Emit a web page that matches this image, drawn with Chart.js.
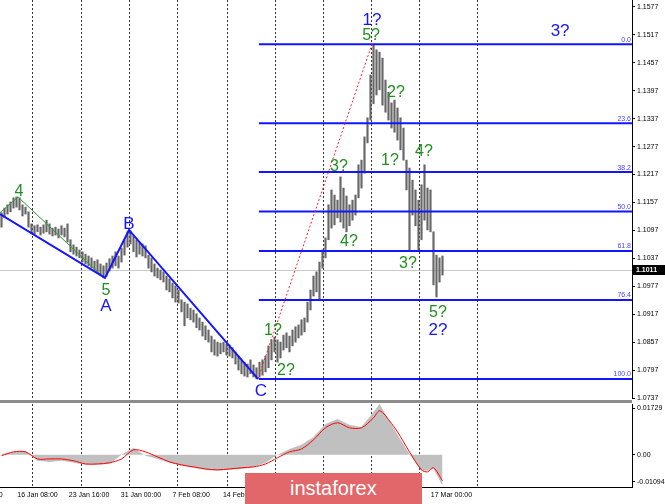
<!DOCTYPE html>
<html>
<head>
<meta charset="utf-8">
<title>EURUSD H4 wave count</title>
<script src="https://cdn.jsdelivr.net/npm/chart.js@4.4.1/dist/chart.umd.min.js"></script>
<style>
  html, body { margin:0; padding:0; background:#fff; }
  #wrap { position:relative; width:665px; height:504px; overflow:hidden; background:#fff; }
  #main { position:absolute; left:0; top:0; }
  #ind  { position:absolute; left:0; top:404px; }
  #sep  { position:absolute; left:0; top:400px; width:632px; height:3px; background:#8c8c8c; }
  #logo { position:absolute; left:245px; top:473px; width:177px; height:31px; background:#e2676b; color:#fff;
          font:20px "Liberation Sans", Arial, sans-serif; }
  #logo span { position:absolute; left:45px; top:4px; }
</style>
</head>
<body>
<div id="wrap">
  <canvas id="main" width="665" height="404"></canvas>
  <div id="sep"></div>
  <canvas id="ind" width="665" height="100"></canvas>
  <div id="logo"><span>instaforex</span></div>
</div>
<script>
/* price bars (one per x index) */
const highs = [
  1.1135,1.1145,1.1152,1.1158,1.1167,1.1169,1.1167,1.1152,1.1147,1.1137,
  1.1111,1.1107,1.1109,1.1104,1.1109,1.1119,1.1111,1.1102,1.1104,1.1100,
  1.1107,1.1102,1.1111,1.1077,1.1066,1.1061,1.1055,1.1051,1.1046,1.1042,
  1.1038,1.1031,1.1034,1.1025,1.1021,1.1027,1.1036,1.1042,1.1051,1.1042,
  1.1059,1.1077,1.1094,1.1096,1.1085,1.1077,1.1072,1.1068,1.1064,1.1044,
  1.1038,1.1025,1.1016,1.1012,1.1008,1.0999,1.0993,1.0984,1.0978,1.0969,
  1.0948,1.0943,1.0939,1.0930,1.0926,1.0918,1.0909,1.0900,1.0892,1.0883,
  1.0870,1.0862,1.0857,1.0855,1.0857,1.0853,1.0851,1.0845,1.0836,1.0827,
  1.0819,1.0814,1.0810,1.0819,1.0808,1.0802,1.0814,1.0819,1.0827,1.0849,
  1.0862,1.0868,1.0862,1.0857,1.0872,1.0877,1.0870,1.0883,1.0890,1.0894,
  1.0905,1.0909,1.0943,1.0969,1.0999,1.1008,1.1029,1.1055,1.1081,1.1152,
  1.1184,1.1173,1.1162,1.1212,1.1188,1.1171,1.1152,1.1162,1.1173,1.1238,
  1.1248,1.1298,1.1339,1.1431,1.1497,1.1485,1.1480,1.1467,1.1420,1.1394,
  1.1371,1.1377,1.1360,1.1339,1.1317,1.1248,1.1231,1.1205,1.1184,1.1162,
  1.1195,1.1238,1.1188,1.1184,1.1094,1.1044,1.1038,1.1042
];
const lows = [
  1.1104,1.1124,1.1132,1.1137,1.1145,1.1147,1.1141,1.1128,1.1132,1.1104,
  1.1091,1.1089,1.1094,1.1087,1.1091,1.1094,1.1089,1.1085,1.1087,1.1081,
  1.1087,1.1083,1.1072,1.1051,1.1046,1.1042,1.1038,1.1029,1.1025,1.1021,
  1.1016,1.1012,1.1008,1.1001,1.0995,1.0999,1.1010,1.1016,1.1021,1.1016,
  1.1029,1.1044,1.1061,1.1068,1.1051,1.1040,1.1046,1.1042,1.1038,1.1016,
  1.1008,1.0999,1.0995,1.0991,1.0986,1.0969,1.0965,1.0952,1.0943,1.0941,
  1.0922,1.0892,1.0909,1.0905,1.0900,1.0888,1.0883,1.0870,1.0862,1.0857,
  1.0836,1.0829,1.0827,1.0832,1.0836,1.0829,1.0827,1.0823,1.0810,1.0797,
  1.0789,1.0784,1.0782,1.0789,1.0782,1.0778,1.0782,1.0786,1.0793,1.0802,
  1.0819,1.0836,1.0814,1.0823,1.0840,1.0845,1.0836,1.0849,1.0857,1.0866,
  1.0872,1.0879,1.0900,1.0926,1.0956,1.0965,1.0948,1.1016,1.1038,1.1077,
  1.1102,1.1109,1.1124,1.1115,1.1102,1.1094,1.1107,1.1119,1.1130,1.1167,
  1.1188,1.1220,1.1285,1.1334,1.1369,1.1388,1.1399,1.1366,1.1351,1.1334,
  1.1317,1.1308,1.1291,1.1270,1.1248,1.1184,1.1055,1.1130,1.1107,1.1055,
  1.1077,1.1119,1.1098,1.1094,1.0980,1.0954,1.0986,1.1001
];
const lastPrice = 1.1011;

/* axes */
const xMin = -0.5, xMax = 210.17;
const priceMin = 1.0737, priceMax = 1.1592;
const priceTicks = [1.0737,1.0797,1.0857,1.0917,1.0977,1.1037,1.1097,1.1157,1.1217,1.1277,1.1337,1.1397,1.1457,1.1517,1.1577];
const gridBars = [10.5, 26.8, 42.8, 58.8, 75.2, 91.2, 107.2, 123.5, 139.5, 158.8];
const timeBars = [-5.7, 12, 29.2, 46.5, 63.2, 80.7, 97.8, 115.2, 132.5, 150];
const timeLabels = ['9 Jan 00:00','16 Jan 08:00','23 Jan 16:00','31 Jan 00:00','7 Feb 08:00','14 Feb 16:00','24 Feb 00:00','2 Mar 08:00','9 Mar 16:00','17 Mar 00:00'];

/* wave markup */
const waveABC = [[-0.5, 1.1132], [34.5, 1.0995], [42.5, 1.1098], [85.5, 1.0778]];
const wave45  = [[-0.5, 1.1135], [5.5, 1.1169], [33.5, 1.0999]];
const waveRay = [[85.5, 1.0778], [123.5, 1.1497]];
const fibStart = 85.8, fibHigh = 1.1497, fibLow = 1.0778;
const fibLevels = [0, 23.6, 38.2, 50, 61.8, 76.4, 100];

const waveText  = ['4','5','A','B','C','1?','2?','3?','4?','1?','5?','2?','1?','4?','3?','5?','2?','3?'];
const waveX     = [5.8,34.8,34.8,42.5,86.5,90.5,94.8,112.5,115.8,123.5,123.2,131.5,129.5,140.8,135.5,145.5,145.5,186.2];
const waveY     = [1.1180,1.0967,1.0935,1.1111,1.0752,1.0881,1.0795,1.1235,1.1072,1.1549,1.1515,1.1394,1.1246,1.1266,1.1025,1.0920,1.0883,1.1525];
const waveColor = ['g','g','b','b','b','g','g','g','g','b','g','g','g','g','g','g','b','b'];

/* oscillator panel */
const indBars   = [0,4,8,12,16,20,24,28,32,36,40,44,48,52,56,60,64,68,72,76,80,84,88,92,96,100,104,108,112,116,120,124,126,128,132,136,140,142,144,147];
const indHist   = [0.0003,0.0010,0.0014,-0.0020,-0.0024,-0.0020,-0.0027,-0.0034,-0.0034,-0.0031,0.0000,0.0024,-0.0003,-0.0014,-0.0027,-0.0037,-0.0044,-0.0051,-0.0054,-0.0051,-0.0048,-0.0041,-0.0027,0.0000,0.0020,0.0034,0.0061,0.0105,0.0122,0.0102,0.0095,0.0146,0.0173,0.0139,0.0068,0.0003,-0.0054,-0.0054,-0.0048,-0.0105];
const indSignal = [-0.0003,0.0010,0.0010,-0.0014,-0.0014,-0.0014,-0.0020,-0.0031,-0.0031,-0.0027,-0.0014,0.0017,0.0010,-0.0007,-0.0024,-0.0034,-0.0041,-0.0048,-0.0051,-0.0048,-0.0044,-0.0041,-0.0031,-0.0010,0.0010,0.0020,0.0051,0.0092,0.0109,0.0092,0.0092,0.0126,0.0150,0.0133,0.0078,0.0010,-0.0051,-0.0058,-0.0044,-0.0088];
const indMin = -0.01094, indMax = 0.01729;
const indTickVals = [0.0159, 0, -0.0092];
const indTickText = ['0.01729', '0.00', '-0.01094'];

const FONT = '"Liberation Sans", Arial, sans-serif';
const BLUE = '#1414ff', GREEN = '#1f8f1f';

function fibPrice(f) { return fibHigh - (fibHigh - fibLow) * f / 100; }
function pts(arr) { return arr.map(p => ({ x: p[0], y: p[1] })); }
function lineDs(data, color, width, dash) {
    return { type:'line', data, borderColor:color, borderWidth:width, borderDash:dash || [],
             pointRadius:0, fill:false, tension:0, xAxisID:'x', yAxisID:'y' };
}

/* ── overlay texts ── */
const overlay = {
    id: 'overlay',
    afterDatasetsDraw(chart) {
        const { ctx, chartArea, scales: { x, y } } = chart;
        ctx.save();
        ctx.font = '7px ' + FONT;
        ctx.fillStyle = '#4646ff';
        ctx.textAlign = 'right';
        ctx.textBaseline = 'bottom';
        fibLevels.forEach(f => {
            ctx.fillText(f.toFixed(1), chartArea.right - 1, y.getPixelForValue(fibPrice(f)) - 1);
        });
        ctx.textAlign = 'center';
        ctx.textBaseline = 'middle';
        waveText.forEach((t, i) => {
            const blue = waveColor[i] === 'b';
            ctx.font = (blue ? '17px ' : '16px ') + FONT;
            ctx.fillStyle = blue ? BLUE : GREEN;
            ctx.fillText(t, x.getPixelForValue(waveX[i]), y.getPixelForValue(waveY[i]));
        });
        ctx.restore();
    },
    afterDraw(chart) {
        const { ctx, chartArea, scales: { y } } = chart;
        const py = Math.round(y.getPixelForValue(lastPrice));
        ctx.save();
        ctx.fillStyle = '#000';
        ctx.fillRect(chartArea.right + 1, py - 5, 32, 10);
        ctx.fillStyle = '#fff';
        ctx.font = 'bold 7px ' + FONT;
        ctx.textAlign = 'left';
        ctx.textBaseline = 'middle';
        ctx.fillText(lastPrice.toFixed(4), chartArea.right + 4, py);
        ctx.restore();
    }
};

/* ── main price chart ── */
const datasets = [
    lineDs(pts(waveABC), BLUE, 2),
    lineDs(pts(wave45), '#2a9a2a', 1),
    lineDs(pts(waveRay), '#ff2020', 1, [2, 2]),
];
fibLevels.forEach(f => datasets.push(lineDs([{ x: fibStart, y: fibPrice(f) }, { x: xMax, y: fibPrice(f) }], BLUE, 2)));
datasets.push({
    type:'bar', data: highs.map((h, i) => ({ x: i, y: [lows[i], h] })),
    backgroundColor:'#666666', barThickness:1.5, xAxisID:'x', yAxisID:'y'
});
datasets.push(lineDs([{ x: xMin, y: lastPrice }, { x: xMax, y: lastPrice }], '#c8c8c8', 1));

new Chart(document.getElementById('main'), {
    type: 'line',
    data: { datasets },
    options: {
        responsive:false, animation:false, devicePixelRatio:1, events:[],
        layout: { padding: 0 },
        plugins: { legend:{ display:false }, tooltip:{ enabled:false } },
        scales: {
            x: {
                type:'linear', min:xMin, max:xMax, offset:false,
                grid: { color:'#333', lineWidth:1, drawTicks:false, offset:false },
                border: { display:false, dash:[2, 2] },
                ticks: { display:false },
                afterBuildTicks: s => { s.ticks = gridBars.map(v => ({ value: v })); },
                afterFit: s => { s.height = 6; s.paddingLeft = 0; s.paddingRight = 0; }
            },
            y: {
                type:'linear', position:'right', min:priceMin, max:priceMax,
                grid: { drawOnChartArea:false, drawTicks:true, tickLength:3, color:'#000' },
                border: { display:true, color:'#000', width:1 },
                ticks: { color:'#000', padding:2, autoSkip:false, font:{ size:7, family:FONT }, callback: v => v.toFixed(4) },
                afterBuildTicks: s => { s.ticks = priceTicks.map(v => ({ value: v })); },
                afterFit: s => { s.width = 33; s.paddingTop = 0; s.paddingBottom = 0; }
            }
        }
    },
    plugins: [overlay]
});

/* ── oscillator panel ── */
new Chart(document.getElementById('ind'), {
    type: 'line',
    data: {
        datasets: [
            { data: indBars.map((b, i) => ({ x: b, y: indSignal[i] })), borderColor:'#ff0000', borderWidth:1,
              pointRadius:0, tension:0.3, fill:false, xAxisID:'x', yAxisID:'y' },
            { data: indBars.map((b, i) => ({ x: b, y: indHist[i] })), borderWidth:0, backgroundColor:'#c0c0c0',
              pointRadius:0, tension:0, fill:'origin', xAxisID:'x', yAxisID:'y' }
        ]
    },
    options: {
        responsive:false, animation:false, devicePixelRatio:1, events:[],
        layout: { padding: 0 },
        plugins: { legend:{ display:false }, tooltip:{ enabled:false } },
        scales: {
            x: {
                type:'linear', min:xMin, max:xMax, offset:false,
                grid: { color:'#333', lineWidth:1, drawTicks:false, offset:false },
                border: { display:false, dash:[2, 2] },
                ticks: { display:false },
                afterBuildTicks: s => { s.ticks = gridBars.map(v => ({ value: v })); },
                afterFit: s => { s.height = 0; s.paddingLeft = 0; s.paddingRight = 0; }
            },
            x2: {
                type:'linear', position:'bottom', min:xMin, max:xMax, offset:false,
                grid: { display:false, drawTicks:false },
                border: { display:true, color:'#000' },
                ticks: { color:'#000', padding:4, autoSkip:false, maxRotation:0, font:{ size:7, family:FONT },
                         callback: (v, i) => timeLabels[i] },
                afterBuildTicks: s => { s.ticks = timeBars.map(v => ({ value: v })); },
                afterFit: s => { s.height = 17; s.paddingLeft = 0; s.paddingRight = 0; }
            },
            y: {
                type:'linear', position:'right', min:indMin, max:indMax,
                grid: { drawOnChartArea:false, drawTicks:true, tickLength:3, color:'#000' },
                border: { display:true, color:'#000', width:1 },
                ticks: { color:'#000', padding:2, autoSkip:false, font:{ size:7, family:FONT },
                         callback: (v, i) => indTickText[i] },
                afterBuildTicks: s => { s.ticks = indTickVals.map(v => ({ value: v })); },
                afterFit: s => { s.width = 33; s.paddingTop = 0; s.paddingBottom = 0; }
            }
        }
    }
});
</script>
</body>
</html>
